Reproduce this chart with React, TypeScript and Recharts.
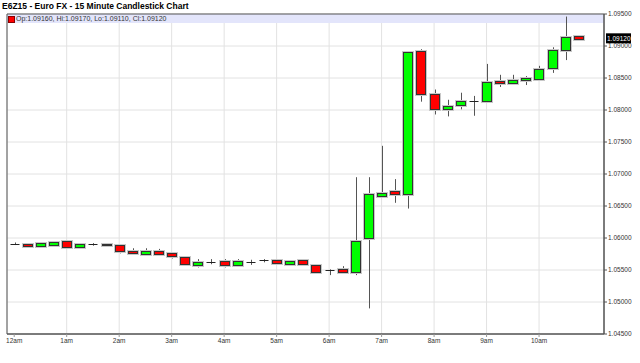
import React from "react";
import {
  ComposedChart,
  Bar,
  XAxis,
  YAxis,
  CartesianGrid,
  ReferenceArea,
  ReferenceLine,
} from "recharts";

// 15 minute candles, 12:00am .. 10:45am
const hourTicks = [0, 4, 8, 12, 16, 20, 24, 28, 32, 36, 40];
const hourLabels = ["12am", "1am", "2am", "3am", "4am", "5am", "6am", "7am", "8am", "9am", "10am"];
const priceTicks = [1.045, 1.05, 1.055, 1.06, 1.065, 1.07, 1.075, 1.08, 1.085, 1.09, 1.095];

const opens = [
  1.0591, 1.059, 1.0587, 1.059, 1.0595, 1.0586, 1.059, 1.0589, 1.0589, 1.0579, 1.0576,
  1.058, 1.0576, 1.057, 1.0559, 1.0563, 1.0564, 1.0557, 1.0563, 1.0565, 1.0565, 1.0559,
  1.0565, 1.0558, 1.055, 1.0551, 1.0547, 1.06, 1.0667, 1.0673, 1.0668, 1.0892, 1.0825,
  1.0802, 1.0808, 1.0814, 1.0814, 1.0845, 1.0843, 1.0847, 1.0848, 1.0865, 1.0894, 1.0916,
];
const highs = [
  1.0593, 1.059, 1.0593, 1.0595, 1.0596, 1.0592, 1.0592, 1.0591, 1.0589, 1.0584, 1.0584,
  1.0583, 1.0576, 1.057, 1.0567, 1.0567, 1.0567, 1.0567, 1.0566, 1.0567, 1.0567, 1.0565,
  1.0567, 1.0558, 1.0551, 1.0556, 1.0695, 1.0695, 1.0744, 1.0692, 1.0892, 1.0895, 1.0832,
  1.0816, 1.0827, 1.0822, 1.0872, 1.0855, 1.0855, 1.0853, 1.0869, 1.0898, 1.0946, 1.0917,
];
const lows = [
  1.0589, 1.0586, 1.0585, 1.059, 1.0585, 1.0584, 1.0588, 1.0587, 1.0576, 1.0575, 1.0572,
  1.0574, 1.0568, 1.0557, 1.0554, 1.0559, 1.0554, 1.0555, 1.0558, 1.0562, 1.056, 1.0559,
  1.0557, 1.0547, 1.0542, 1.0545, 1.0542, 1.049, 1.0666, 1.0655, 1.0646, 1.0813, 1.0793,
  1.079, 1.0801, 1.0791, 1.0814, 1.0836, 1.0843, 1.0839, 1.0848, 1.0858, 1.0878, 1.0911,
];
const closes = [
  1.0591, 1.0587, 1.0592, 1.0594, 1.0586, 1.059, 1.059, 1.059, 1.0579, 1.0576, 1.058,
  1.0576, 1.0571, 1.0559, 1.0563, 1.0563, 1.0557, 1.0564, 1.0563, 1.0565, 1.056, 1.0564,
  1.0558, 1.0547, 1.055, 1.0547, 1.0595, 1.0668, 1.0671, 1.0668, 1.089, 1.0825, 1.0802,
  1.0806, 1.0814, 1.0814, 1.0844, 1.0842, 1.0847, 1.085, 1.0864, 1.0893, 1.0914, 1.0912,
];

const lastPrice = 1.0912;

const data = opens.map((o, i) => ({
  i,
  open: o,
  high: highs[i],
  low: lows[i],
  close: closes[i],
  range: [lows[i], highs[i]],
}));

const font = "'Liberation Sans', Arial, sans-serif";

function Candle(props: any) {
  const { x, y, width, height, payload } = props;
  if (x == null || y == null) return null;
  const { open, close, high, low } = payload;
  const top = Math.min(y, y + height);
  const h = Math.abs(height);
  const toY = (v: number) => top + ((high - v) / (high - low)) * h;
  const cx = Math.round(x + width / 2) + 0.5;
  const yO = toY(open);
  const yC = toY(close);
  const bTop = Math.round(Math.min(yO, yC)) + 0.5;
  const bH = Math.max(Math.round(Math.abs(yO - yC)), 0);
  const left = Math.round(x) + 0.5;
  const w = Math.round(width) - 1;
  return (
    <g>
      <line x1={cx} x2={cx} y1={top} y2={top + h} stroke="#555" strokeWidth={1} />
      {open === close ? (
        <line x1={left} x2={left + w} y1={Math.round(yO) + 0.5} y2={Math.round(yO) + 0.5} stroke="#222" strokeWidth={1} />
      ) : (
        <>
          <rect x={left - 1} y={bTop - 1} width={w + 2} height={bH + 2} fill="none" stroke="#c8c8c8" strokeWidth={1} />
          <rect
            x={left}
            y={bTop}
            width={w}
            height={Math.max(bH, 1)}
            fill={close > open ? "#00ff00" : "#ff0000"}
            stroke="#333"
            strokeWidth={1}
          />
        </>
      )}
    </g>
  );
}

function PriceTag(props: any) {
  const vb = props.viewBox || {};
  const bx = vb.x + vb.width + 2;
  const by = vb.y;
  return (
    <g>
      <rect x={bx} y={by - 5} width={25} height={10} fill="#000" />
      <text x={bx + 1} y={by + 2.5} fill="#fff" fontSize={6.5} fontFamily={font}>
        {lastPrice.toFixed(5)}
      </text>
    </g>
  );
}

export default function App() {
  return (
    <div style={{ position: "absolute", left: 0, top: 0, width: 640, height: 363, background: "#fff" }}>
      <div
        style={{
          position: "absolute",
          left: 2,
          top: 1,
          fontFamily: font,
          fontWeight: "bold",
          fontSize: 8.5,
          color: "#000",
          whiteSpace: "nowrap",
        }}
      >
        E6Z15 - Euro FX - 15 Minute Candlestick Chart
      </div>
      <ComposedChart
        width={640}
        height={363}
        data={data}
        margin={{ top: 14, right: 0, bottom: 0, left: 7 }}
        style={{ fontFamily: font }}
      >
        <CartesianGrid stroke="#e2e2e2" />
        <ReferenceArea y1={1.0936} y2={1.095} fill="#e3e5fb" fillOpacity={1} stroke="none" />
        <XAxis
          dataKey="i"
          type="number"
          domain={[-0.55, 44.95]}
          ticks={hourTicks}
          tickFormatter={(v: number) => hourLabels[hourTicks.indexOf(v)]}
          height={29}
          tickSize={3}
          tickMargin={1}
          axisLine={{ stroke: "#555" }}
          tickLine={{ stroke: "#999" }}
          tick={{ fontSize: 6.5, fill: "#333" }}
          allowDataOverflow
        />
        <YAxis
          orientation="right"
          type="number"
          domain={[1.045, 1.095]}
          ticks={priceTicks}
          tickFormatter={(v: number) => v.toFixed(5)}
          width={36}
          tickSize={3}
          tickMargin={1}
          axisLine={{ stroke: "#555" }}
          tickLine={{ stroke: "#555" }}
          tick={{ fontSize: 6.5, fill: "#333" }}
          allowDataOverflow
        />
        <Bar dataKey="range" barSize={10} shape={Candle} isAnimationActive={false} />
        <ReferenceArea
          x1={-0.55}
          x2={44.95}
          y1={1.045}
          y2={1.095}
          fill="none"
          stroke="#555"
          ifOverflow="visible"
        />
        <ReferenceLine y={lastPrice} stroke="none" label={<PriceTag />} />
      </ComposedChart>
      <div style={{ position: "absolute", left: 8, top: 16, width: 5, height: 5, background: "#ff0000", border: "0.5px solid #800" }} />
      <div
        style={{
          position: "absolute",
          left: 16,
          top: 14,
          fontFamily: font,
          fontSize: 7,
          lineHeight: "9px",
          color: "#333",
          whiteSpace: "nowrap",
        }}
      >
        Op:1.09160, Hi:1.09170, Lo:1.09110, Cl:1.09120
      </div>
    </div>
  );
}
